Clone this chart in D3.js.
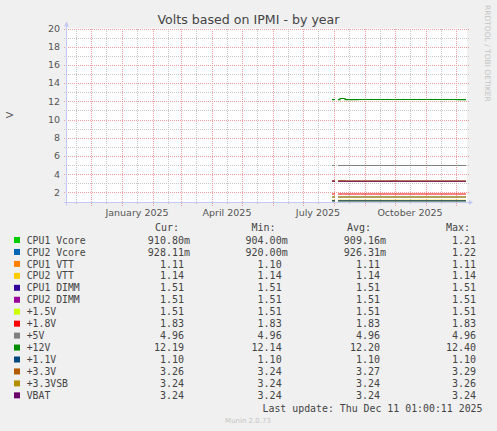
<!DOCTYPE html>
<html>
<head>
<meta charset="utf-8">
<script src="https://cdn.jsdelivr.net/npm/d3@7"></script>
<style>
  html, body { margin: 0; padding: 0; background: #f0f0f0; }
  svg { display: block; }
  .mono { font-family: "DejaVu Sans Mono", monospace; white-space: pre; }
  .sans { font-family: "DejaVu Sans", sans-serif; }
</style>
</head>
<body>
<svg id="chart" width="497" height="431"></svg>
<script>
// sample dates (null value = no data)
const dates = ["2025-07-30", "2025-08-02", "2025-08-03", "2025-08-05", "2025-08-07",
  "2025-08-12", "2025-08-25", "2025-09-10", "2025-09-26", "2025-10-03",
  "2025-10-20", "2025-11-05", "2025-11-20", "2025-12-01", "2025-12-11"];

const cpu1Vcore = [0.91, 0.91, null, 0.91, 0.91, 0.91, 0.91, 0.91, 0.91, 0.91, 0.91, 0.91, 0.91, 0.91, 0.91];
const cpu2Vcore = [0.93, 0.93, null, 0.93, 0.93, 0.93, 0.93, 0.93, 0.93, 0.93, 0.93, 0.93, 0.93, 0.93, 0.93];
const cpu1Vtt = [1.11, 1.11, null, 1.11, 1.11, 1.11, 1.11, 1.11, 1.11, 1.11, 1.11, 1.11, 1.11, 1.11, 1.11];
const cpu2Vtt = [1.14, 1.14, null, 1.14, 1.14, 1.14, 1.14, 1.14, 1.14, 1.14, 1.14, 1.14, 1.14, 1.14, 1.14];
const cpu1Dimm = [1.51, 1.51, null, 1.51, 1.51, 1.51, 1.51, 1.51, 1.51, 1.51, 1.51, 1.51, 1.51, 1.51, 1.51];
const cpu2Dimm = [1.51, 1.51, null, 1.51, 1.51, 1.51, 1.51, 1.51, 1.51, 1.51, 1.51, 1.51, 1.51, 1.51, 1.51];
const v15 = [1.51, 1.51, null, 1.51, 1.51, 1.51, 1.51, 1.51, 1.51, 1.51, 1.51, 1.51, 1.51, 1.51, 1.51];
const v18 = [1.83, 1.83, null, 1.83, 1.83, 1.83, 1.83, 1.83, 1.83, 1.83, 1.83, 1.83, 1.83, 1.83, 1.83];
const v5 = [4.96, 4.96, null, 4.96, 4.96, 4.96, 4.96, 4.96, 4.96, 4.96, 4.96, 4.96, 4.96, 4.96, 4.96];
const v12 = [12.19, 12.19, null, 12.19, 12.32, 12.19, 12.2, 12.2, 12.2, 12.2, 12.2, 12.2, 12.2, 12.19, 12.19];
const v11 = [1.10, 1.10, null, 1.10, 1.10, 1.10, 1.10, 1.10, 1.10, 1.10, 1.10, 1.10, 1.10, 1.10, 1.10];
const v33 = [3.29, 3.29, null, 3.29, 3.29, 3.26, 3.26, 3.26, 3.29, 3.26, 3.26, 3.26, 3.26, 3.26, 3.26];
const v33sb = [3.24, 3.24, null, 3.24, 3.26, 3.24, 3.24, 3.24, 3.24, 3.24, 3.24, 3.24, 3.24, 3.24, 3.24];
const vbat = [3.24, 3.24, null, 3.24, 3.24, 3.24, 3.24, 3.24, 3.24, 3.24, 3.24, 3.24, 3.24, 3.24, 3.24];

const names = ["CPU1 Vcore", "CPU2 Vcore", "CPU1 VTT", "CPU2 VTT", "CPU1 DIMM", "CPU2 DIMM",
  "+1.5V", "+1.8V", "+5V", "+12V", "+1.1V", "+3.3V", "+3.3VSB", "VBAT"];
const colors = ["#00cc00", "#0066b3", "#ff8000", "#ffcc00", "#330099", "#990099",
  "#ccff00", "#ff0000", "#808080", "#008f00", "#00487d", "#b35a00", "#b38f00", "#6b006b"];
const series = [cpu1Vcore, cpu2Vcore, cpu1Vtt, cpu2Vtt, cpu1Dimm, cpu2Dimm,
  v15, v18, v5, v12, v11, v33, v33sb, vbat];

const legendCur = ["910.80m", "928.11m", "1.11", "1.14", "1.51", "1.51", "1.51", "1.83", "4.96", "12.19", "1.10", "3.26", "3.24", "3.24"];
const legendMin = ["904.00m", "920.00m", "1.10", "1.14", "1.51", "1.51", "1.51", "1.83", "4.96", "12.14", "1.10", "3.24", "3.24", "3.24"];
const legendAvg = ["909.16m", "926.31m", "1.11", "1.14", "1.51", "1.51", "1.51", "1.83", "4.96", "12.20", "1.10", "3.27", "3.24", "3.24"];
const legendMax = ["1.21", "1.22", "1.11", "1.14", "1.51", "1.51", "1.51", "1.83", "4.96", "12.40", "1.10", "3.29", "3.26", "3.24"];

const yTicks = [2, 4, 6, 8, 10, 12, 14, 16, 18, 20];
const xLabels = ["January 2025", "April 2025", "July 2025", "October 2025"];

const svg = d3.select("#chart");
const plotL = 67, plotR = 467, plotT = 28.5, plotB = 202.5;
const parse = d3.utcParse("%Y-%m-%d");

const x = d3.scaleUtc()
  .domain([parse("2024-11-07"), parse("2025-12-12")])
  .range([plotL, plotR]);
const y = d3.scaleLinear()
  .domain([0.9, 20])
  .range([plotB, plotT]);

svg.append("rect").attr("width", 497).attr("height", 431).attr("fill", "#f0f0f0");
svg.append("rect")
  .attr("x", plotL).attr("y", plotT)
  .attr("width", plotR - plotL).attr("height", plotB - plotT)
  .attr("fill", "#fff");

// grid
const g = svg.append("g").attr("shape-rendering", "crispEdges");
const minorY = d3.range(1, 20, 2);
g.selectAll(".hmin").data(minorY).enter().append("line")
  .attr("x1", plotL - 3).attr("x2", plotR + 2)
  .attr("y1", d => Math.round(y(d)) + 0.5).attr("y2", d => Math.round(y(d)) + 0.5)
  .attr("stroke", "#c8c8c8").attr("stroke-dasharray", "1,1");

const midMonths = d3.utcMonths(parse("2024-11-01"), parse("2025-12-12")).map(d => d3.utcDay.offset(d, 15));
g.selectAll(".vmin").data(midMonths.filter(d => x(d) > plotL && x(d) < plotR)).enter().append("line")
  .attr("x1", d => Math.round(x(d)) + 0.5).attr("x2", d => Math.round(x(d)) + 0.5)
  .attr("y1", plotT).attr("y2", plotB + 2)
  .attr("stroke", "#c8c8c8").attr("stroke-dasharray", "1,1");

g.selectAll(".hmaj").data(yTicks).enter().append("line")
  .attr("x1", plotL - 3).attr("x2", plotR + 2)
  .attr("y1", d => Math.round(y(d)) + 0.5).attr("y2", d => Math.round(y(d)) + 0.5)
  .attr("stroke", "#eaa0a0").attr("stroke-dasharray", "1,1");

const monthStarts = x.ticks(d3.utcMonth.every(1)).filter(d => x(d) > plotL && x(d) < plotR);
g.selectAll(".vmaj").data(monthStarts).enter().append("line")
  .attr("x1", d => Math.round(x(d)) + 0.5).attr("x2", d => Math.round(x(d)) + 0.5)
  .attr("y1", plotT).attr("y2", plotB + 3)
  .attr("stroke", "#eaa0a0").attr("stroke-dasharray", "1,1");

// y tick labels
svg.append("g").selectAll("text").data(yTicks).enter().append("text")
  .attr("class", "sans")
  .attr("x", 60).attr("y", d => y(d)).attr("dy", "0.35em")
  .attr("text-anchor", "end").attr("font-size", "9.5px").attr("fill", "#555")
  .text(d => d);

// x labels, centred mid-month
const labelDates = ["2025-01-16", "2025-04-16", "2025-07-16", "2025-10-16"].map(parse);
svg.append("g").selectAll("text").data(xLabels).enter().append("text")
  .attr("class", "sans")
  .attr("x", (d, i) => x(labelDates[i])).attr("y", 216)
  .attr("text-anchor", "middle").attr("font-size", "9.5px").attr("fill", "#555")
  .text(d => d);

// series lines
svg.append("clipPath").attr("id", "clip")
  .append("rect").attr("x", plotL).attr("y", plotT - 1).attr("width", plotR - plotL).attr("height", plotB - plotT + 1.2);

const line = d3.line()
  .defined(d => d[1] != null)
  .x(d => x(parse(d[0])))
  .y(d => y(d[1]))
  .curve(d3.curveStepAfter);

svg.append("g").attr("clip-path", "url(#clip)")
  .selectAll("path").data(series).enter().append("path")
  .attr("d", vals => line(dates.map((dt, i) => [dt, vals[i]])))
  .attr("fill", "none")
  .attr("stroke", (d, i) => colors[i])
  .attr("stroke-width", 1.1);

// axes with arrows
const axisColor = "#c4c8f4";
svg.append("line").attr("x1", plotL - 3).attr("x2", plotR + 3)
  .attr("y1", plotB).attr("y2", plotB).attr("stroke", axisColor);
svg.append("path")
  .attr("d", `M${plotR + 2},${plotB - 2.5}L${plotR + 6},${plotB}L${plotR + 2},${plotB + 2.5}Z`)
  .attr("fill", axisColor);
svg.append("line").attr("x1", plotL - 0.5).attr("x2", plotL - 0.5)
  .attr("y1", plotB + 3).attr("y2", plotT - 4).attr("stroke", axisColor);
svg.append("path")
  .attr("d", `M${plotL - 3},${plotT - 2}L${plotL - 0.5},${plotT - 7}L${plotL + 2},${plotT - 2}Z`)
  .attr("fill", axisColor);

// title and labels
svg.append("text").attr("class", "sans")
  .attr("x", 248.5).attr("y", 24).attr("text-anchor", "middle")
  .attr("font-size", "12.6px").attr("fill", "#444")
  .text("Volts based on IPMI - by year");

svg.append("text").attr("class", "sans")
  .attr("transform", "translate(13,115) rotate(-90)")
  .attr("text-anchor", "middle").attr("font-size", "9.5px").attr("fill", "#555")
  .text("V");

svg.append("text").attr("class", "sans")
  .attr("transform", "translate(485,5) rotate(90)")
  .attr("text-anchor", "start").attr("font-size", "7.5px").attr("fill", "#c4c4c4")
  .text("RRDTOOL / TOBI OETIKER");

// legend
const rowY = i => 243.6 + i * 11.95;
const legend = svg.append("g");
[["Cur:", 155], ["Min:", 251.5], ["Avg:", 347], ["Max:", 446]].forEach(h => {
  legend.append("text").attr("class", "mono")
    .attr("x", h[1]).attr("y", 231).attr("font-size", "10px").attr("fill", "#444")
    .text(h[0]);
});

const rows = legend.selectAll(".row").data(names).enter().append("g");
rows.append("rect")
  .attr("x", 14).attr("y", (d, i) => rowY(i) - 6.6)
  .attr("width", 6).attr("height", 6)
  .attr("fill", (d, i) => colors[i]);
rows.append("text").attr("class", "mono")
  .attr("x", 26.7).attr("y", (d, i) => rowY(i))
  .attr("font-size", "9.8px").attr("fill", "#444")
  .text(d => d);

const pad = s => (s.endsWith("m") ? s : s + " ");
const cols = [[legendCur, 190], [legendMin, 287.7], [legendAvg, 386], [legendMax, 482]];
cols.forEach(c => {
  rows.append("text").attr("class", "mono")
    .attr("x", c[1]).attr("y", (d, i) => rowY(i))
    .attr("text-anchor", "end").attr("font-size", "10px").attr("fill", "#444")
    .text((d, i) => pad(c[0][i]));
});

svg.append("text").attr("class", "mono")
  .attr("x", 482.5).attr("y", 412).attr("text-anchor", "end")
  .attr("font-size", "9.9px").attr("fill", "#444")
  .text("Last update: Thu Dec 11 01:00:11 2025");

svg.append("text").attr("class", "sans")
  .attr("x", 248).attr("y", 422.5).attr("text-anchor", "middle")
  .attr("font-size", "7px").attr("fill", "#c4c4c4")
  .text("Munin 2.0.73");
</script>
</body>
</html>
